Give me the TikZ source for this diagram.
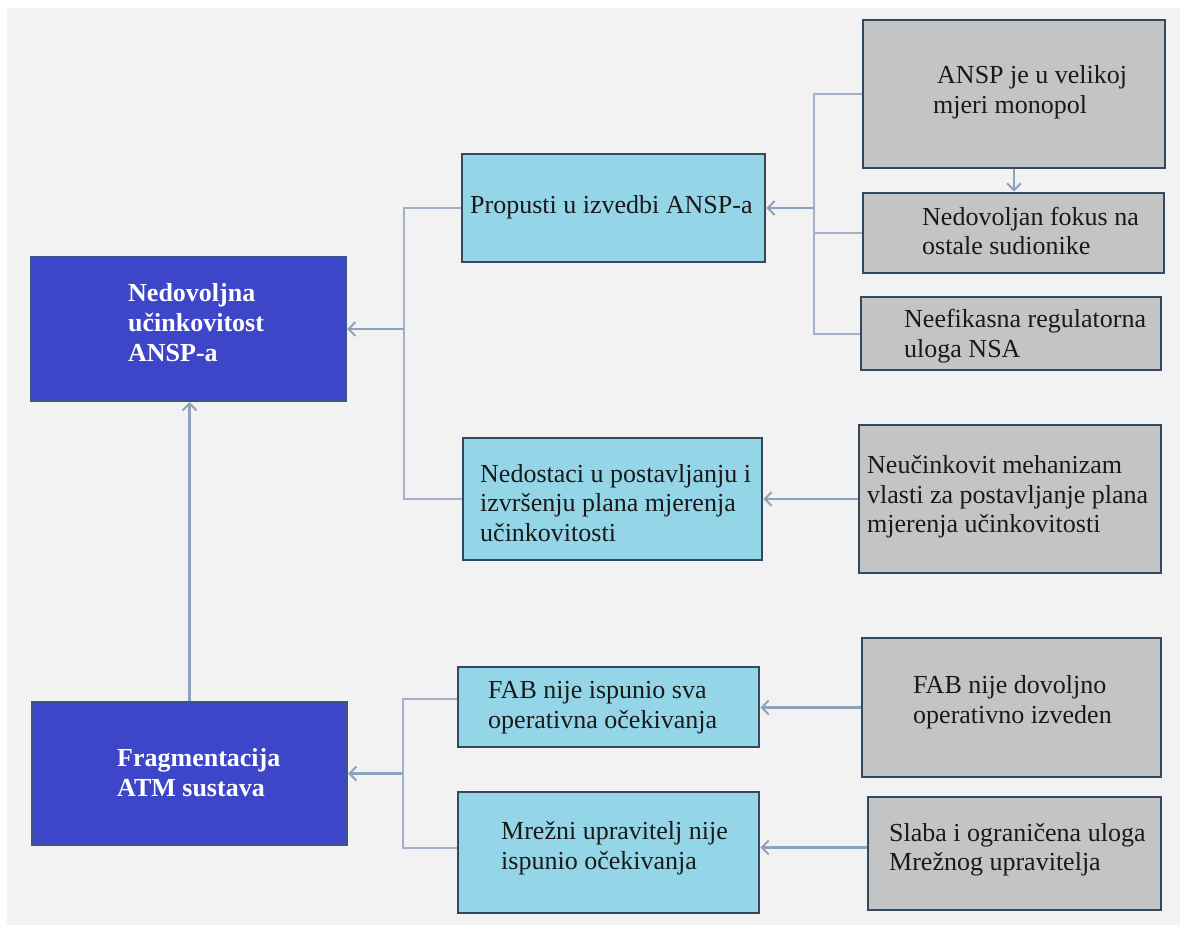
\documentclass[tikz,border=0pt]{standalone}
\usepackage{fontspec}
\setmainfont{Liberation Serif}
\usetikzlibrary{arrows.meta}
\definecolor{bgc}{HTML}{F2F2F2}
\definecolor{dblue}{HTML}{3D46C9}
\definecolor{dblueb}{HTML}{3A5689}
\definecolor{lblue}{HTML}{94D6E8}
\definecolor{boxb}{HTML}{34485E}
\definecolor{gfill}{HTML}{C4C4C4}
\definecolor{connc}{HTML}{8DA2BB}
\definecolor{treec}{HTML}{A2B1C4}
\begin{document}
\begin{tikzpicture}[x=1pt,y=-1pt,
  box/.style={draw=boxb, line width=2.6pt, rectangle, inner sep=0pt},
  mainbox/.style={box, draw=dblueb, fill=dblue, line width=2pt},
  midbox/.style={box, fill=lblue},
  greybox/.style={box, fill=gfill},
  txt/.style={font=\fontsize{26}{29.5}\selectfont, align=left, anchor=west, inner sep=0pt, text=black!90},
  btxt/.style={txt, font=\fontsize{26}{30}\selectfont\bfseries, text=white},
  conn/.style={draw=treec, line width=2pt},
  arr/.style={draw=connc, line width=2.8pt, -{Straight Barb[length=7pt,width=14pt,line width=2pt]}},
]
\path[use as bounding box] (0,0) rectangle (1188,925);
\fill[bgc] (7,8) rectangle (1180,925);

% main boxes
\node[mainbox, minimum width=315pt, minimum height=144pt] (b1) at (188.5,329) {};
\node[mainbox, minimum width=315pt, minimum height=143pt] (b2) at (189.5,773.5) {};
\node[btxt] (tb1) at (128,323) {Nedovoljna\\učinkovitost\\ANSP-a};
\node[btxt] (tb2) at (117,772.5) {Fragmentacija\\ATM sustava};

% middle boxes
\node[midbox, minimum width=303pt, minimum height=108pt] (p1) at (613.5,208) {};
\node[midbox, minimum width=299pt, minimum height=122pt] (p2) at (612.5,499) {};
\node[midbox, minimum width=301pt, minimum height=80pt] (p3) at (608.5,707) {};
\node[midbox, minimum width=301pt, minimum height=121pt] (p4) at (608.5,852.5) {};
\node[txt] (tp1) at (470,207) {Propusti u izvedbi ANSP-a};
\node[txt] (tp2) at (480,503) {Nedostaci u postavljanju i\\izvršenju plana mjerenja\\učinkovitosti};
\node[txt] (tp3) at (488,707.5) {FAB nije ispunio sva\\operativna očekivanja};
\node[txt] (tp4) at (501,848) {Mrežni upravitelj nije\\ispunio očekivanja};

% grey boxes
\node[greybox, minimum width=302pt, minimum height=148pt] (g1) at (1014,94) {};
\node[greybox, minimum width=301pt, minimum height=80pt] (g2) at (1013.5,233) {};
\node[greybox, minimum width=300pt, minimum height=73pt] (g3) at (1011,333.5) {};
\node[greybox, minimum width=302pt, minimum height=148pt] (g4) at (1010,499) {};
\node[greybox, minimum width=299pt, minimum height=139pt] (g5) at (1011.5,707.5) {};
\node[greybox, minimum width=293pt, minimum height=113pt] (g6) at (1014.5,853.5) {};
\node[txt] (tg1) at (933,92.5) {\hspace{4pt}ANSP je u velikoj\\mjeri monopol};
\node[txt] (tg2) at (922,231) {Nedovoljan fokus na\\ostale sudionike};
\node[txt] (tg3) at (904,336) {Neefikasna regulatorna\\uloga NSA};
\node[txt] (tg4) at (867,497) {Neučinkovit mehanizam\\vlasti za postavljanje plana\\mjerenja učinkovitosti};
\node[txt] (tg5) at (913,702) {FAB nije dovoljno\\operativno izveden};
\node[txt] (tg6) at (889,850) {Slaba i ograničena uloga\\Mrežnog upravitelja};

% junctions
\coordinate (jA) at (404,329);
\coordinate (jB) at (814,208);
\coordinate (jC) at (403,773.5);

% connectors
\draw[conn] (p1.west) -| (jA) |- (p2.west);
\draw[arr] (jA) -- (b1.east);
\draw[conn] ([yshift=8pt]p3.west) -| (jC) |- ([yshift=4.5pt]p4.west);
\draw[arr] (jC) -- (b2.east);
\draw[conn] (g1.west) -| (jB) |- (g3.west);
\draw[conn] (g2.west) -- (g2.west -| jB);
\draw[arr] (jB) -- (p1.east);
\draw[arr] (g1.south) -- (g1.south |- g2.north);
\draw[arr] (g4.west) -- (g4.west -| p2.east);
\draw[arr] (g5.west) -- (g5.west -| p3.east);
\draw[arr] ([yshift=6pt]g6.west) -- ([yshift=6pt]g6.west -| p4.east);
\draw[arr] (b2.north) -- (b2.north |- b1.south);
\end{tikzpicture}
\end{document}
